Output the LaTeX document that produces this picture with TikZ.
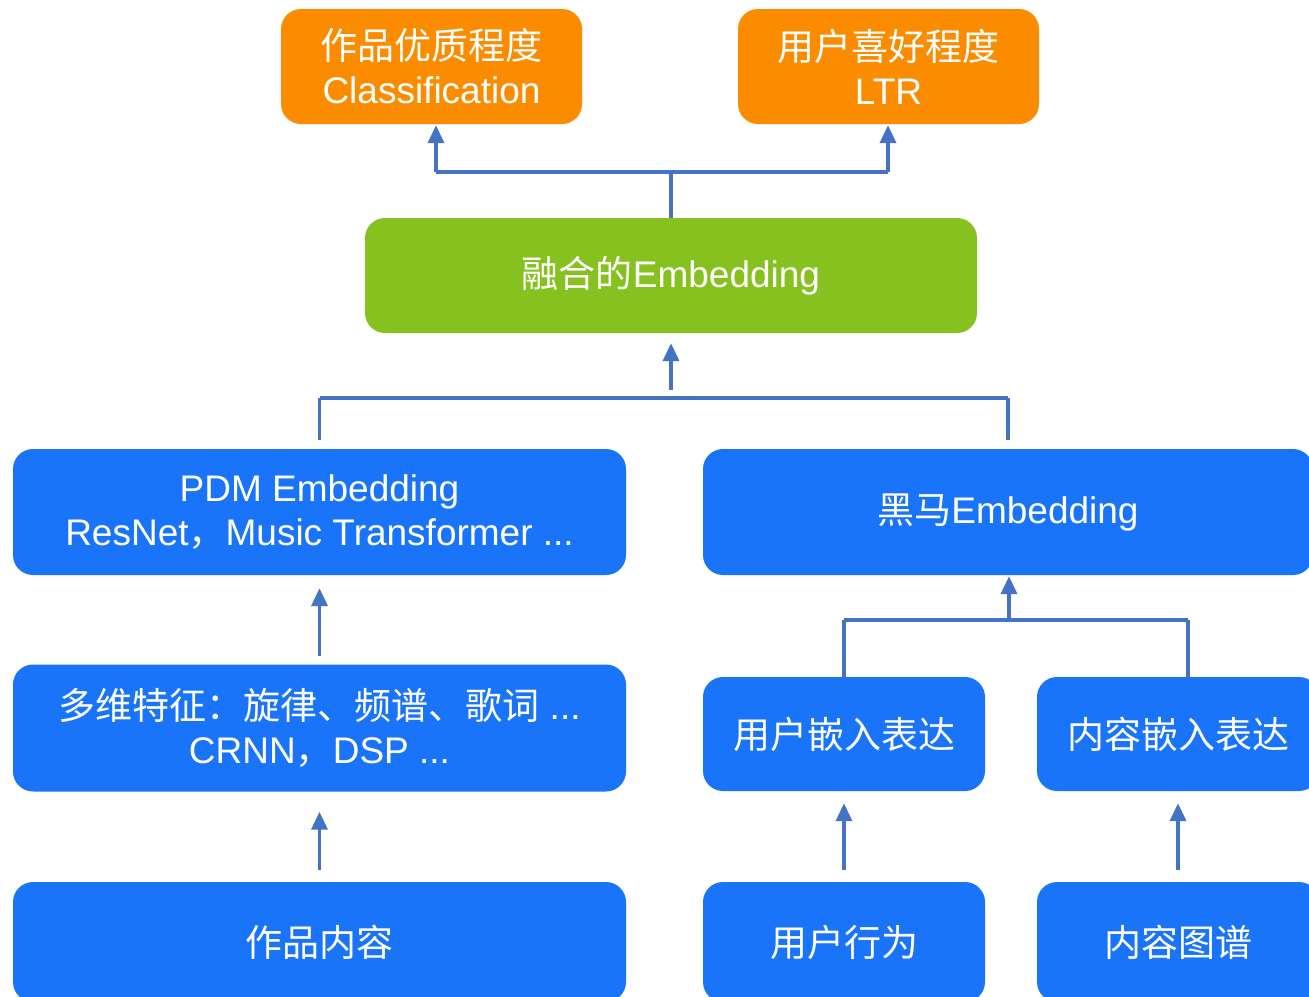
\documentclass[tikz,border=0pt]{standalone}
\usepackage{fontspec}
\setmainfont{Liberation Sans}
\newfontfamily\cjk{Noto Sans CJK SC}
\usetikzlibrary{arrows.meta}
\definecolor{boxblue}{RGB}{26,116,250}
\definecolor{boxorange}{RGB}{251,140,0}
\definecolor{boxgreen}{RGB}{134,193,31}
\definecolor{wireblue}{RGB}{68,114,196}
\tikzset{
  card/.style={draw=none, rounded corners=20pt, inner sep=0pt, align=center,
    text=white, font=\fontsize{37}{44}\selectfont},
  bluecard/.style={card, fill=boxblue},
  orangecard/.style={card, fill=boxorange},
  greencard/.style={card, fill=boxgreen},
  wire/.style={draw=wireblue, line width=3.6pt},
  arrowwire/.style={wire, -{Triangle[length=18pt,width=16pt]}},
}
\begin{document}
\begin{tikzpicture}[x=1pt,y=-1pt]
\clip (0,0) rectangle (1309,996);
\fill[white] (0,0) rectangle (1309,996);

% output heads
\node[orangecard, minimum width=301pt, minimum height=115pt] (o1) at (431.5,66.5)
  {{\cjk 作品优质程度}\\Classification};
\node[orangecard, minimum width=301pt, minimum height=115pt] (o2) at (888.5,66.5)
  {{\cjk 用户喜好程度}\\LTR};

% fused embedding
\node[greencard, minimum width=612pt, minimum height=115pt] (fuse) at (671,275.5)
  {{\cjk 融合的}Embedding};

% embedding row
\node[bluecard, minimum width=613pt, minimum height=126pt] (pdm) at (319.5,512)
  {PDM Embedding\\ResNet{\cjk ，}Music Transformer ...};
\node[bluecard, minimum width=610pt, minimum height=126pt] (hm) at (1008,512)
  {{\cjk 黑马}Embedding};

% feature row
\node[bluecard, minimum width=613pt, minimum height=127pt] (feat) at (319.5,728)
  {{\cjk 多维特征：旋律、频谱、歌词} ...\\CRNN{\cjk ，}DSP ...};
\node[bluecard, minimum width=282pt, minimum height=114pt] (ue) at (844,734)
  {\cjk 用户嵌入表达};
\node[bluecard, minimum width=282pt, minimum height=114pt] (ce) at (1178,734)
  {\cjk 内容嵌入表达};

% source row
\node[bluecard, minimum width=613pt, minimum height=120pt] (work) at (319.5,942)
  {\cjk 作品内容};
\node[bluecard, minimum width=282pt, minimum height=120pt] (ub) at (844,942)
  {\cjk 用户行为};
\node[bluecard, minimum width=282pt, minimum height=120pt] (kg) at (1178,942)
  {\cjk 内容图谱};

% fused embedding -> two heads
\coordinate (ja) at (436,172);
\coordinate (jb) at (888,172);
\draw[wire] (fuse.north) -- (fuse.north |- ja);
\draw[wire] (ja) -- (jb);
\draw[arrowwire, shorten >=1pt] (ja) -- (ja |- o1.south);
\draw[arrowwire, shorten >=1pt] (jb) -- (jb |- o2.south);

% two embeddings -> fused embedding
\coordinate (jm) at (671,398);
\draw[wire, shorten <=9pt] (pdm.north) -- (pdm.north |- jm);
\draw[wire, shorten <=9pt] (hm.north) -- (hm.north |- jm);
\draw[wire] (pdm.north |- jm) -- (hm.north |- jm);
\draw[arrowwire, shorten <=8pt, shorten >=10pt] (jm) -- (fuse.south);

% left column
\draw[arrowwire, shorten <=8pt, shorten >=13pt] (feat.north) -- (pdm.south);
\draw[arrowwire, shorten <=12pt, shorten >=20pt] (work.north) -- (feat.south);

% right column
\coordinate (cetap) at ([xshift=10pt]ce.north);
\coordinate (jr) at (1009,620);
\draw[wire] (ue.north) -- (ue.north |- jr);
\draw[wire] (cetap) -- (cetap |- jr);
\draw[wire] (ue.north |- jr) -- (cetap |- jr);
\draw[arrowwire, shorten >=1pt] (jr) -- (jr |- hm.south);
\draw[arrowwire, shorten <=12pt, shorten >=12pt] (ub.north) -- (ue.south);
\draw[arrowwire, shorten <=12pt, shorten >=12pt] (kg.north) -- (ce.south);
\end{tikzpicture}
\end{document}
